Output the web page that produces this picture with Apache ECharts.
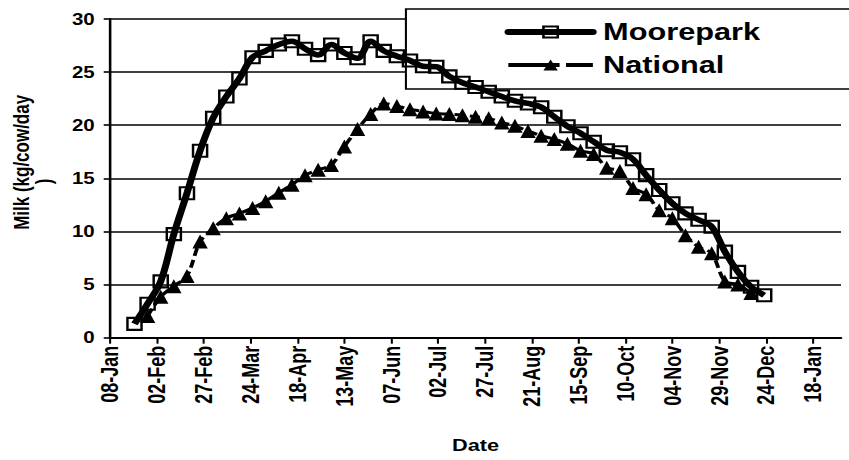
<!DOCTYPE html>
<html>
<head>
<meta charset="utf-8">
<script src="https://cdn.jsdelivr.net/npm/echarts@6/dist/echarts.min.js"></script>
<style>
html,body{margin:0;padding:0;overflow:hidden;background:#fff;width:849px;height:460px}
#wrap{width:849px;height:460px;overflow:hidden;position:relative}
#chart{width:663px;height:460px;transform:scaleX(1.2805);transform-origin:0 0}
</style>
</head>
<body>
<div id="wrap"><div id="chart"></div></div>
<script>
// ---- data ----
const xTickLabels = ['08-Jan','02-Feb','27-Feb','24-Mar','18-Apr','13-May','07-Jun','02-Jul',
  '27-Jul','21-Aug','15-Sep','10-Oct','04-Nov','29-Nov','24-Dec','18-Jan'];
const weekDates = ['21-Jan','28-Jan','04-Feb','11-Feb','18-Feb','25-Feb','04-Mar','11-Mar','18-Mar','25-Mar',
  '01-Apr','08-Apr','15-Apr','22-Apr','29-Apr','06-May','13-May','20-May','27-May','03-Jun',
  '10-Jun','17-Jun','24-Jun','01-Jul','08-Jul','15-Jul','22-Jul','29-Jul','05-Aug','12-Aug',
  '19-Aug','26-Aug','02-Sep','09-Sep','16-Sep','23-Sep','30-Sep','07-Oct','14-Oct','21-Oct',
  '28-Oct','04-Nov','11-Nov','18-Nov','25-Nov','02-Dec','09-Dec','16-Dec','23-Dec'];
const moorepark = [1.3,3.2,5.3,9.75,13.6,17.6,20.7,22.7,24.4,26.4,
  27.0,27.6,27.9,27.2,26.6,27.6,26.8,26.3,27.9,27.0,
  26.5,26.1,25.55,25.5,24.6,24.0,23.6,23.15,22.7,22.3,
  22.05,21.7,20.8,19.9,19.25,18.45,17.65,17.45,16.8,15.3,
  13.9,12.65,11.7,11.1,10.45,8.1,6.2,4.8,4.0];
const nationalDates = weekDates.slice(1, 48);
const national = [2.05,3.85,4.85,5.8,9.05,10.3,11.25,11.7,12.2,
  12.85,13.65,14.4,15.3,15.8,16.25,18.0,19.65,21.05,22.05,
  21.8,21.5,21.3,21.1,21.05,20.95,20.8,20.65,20.25,19.95,
  19.45,19.0,18.7,18.25,17.6,17.3,16.0,15.7,14.1,13.5,
  12.0,11.25,9.65,8.55,7.95,5.3,5.0,4.2];

// ---- helpers ----
const MONTHS = ['Jan','Feb','Mar','Apr','May','Jun','Jul','Aug','Sep','Oct','Nov','Dec'];
function dayOffset(s) {
  const parts = s.split('-');
  const m = MONTHS.indexOf(parts[1]);
  return (Date.UTC(2007, m, +parts[0]) - Date.UTC(2007, 0, 8)) / 86400000;
}
const TICK_STEP = 25;
const tickValues = xTickLabels.map((_, i) => i * TICK_STEP);
const FONT = "'Liberation Sans', Arial, sans-serif";

const mooreData = weekDates.map((d, i) => [dayOffset(d), moorepark[i]]);
const natData = nationalDates.map((d, i) => [dayOffset(d), national[i]]);

const chart = echarts.init(document.getElementById('chart'), null, {renderer: 'svg'});
chart.setOption({
  animation: false,
  backgroundColor: '#fff',
  grid: {left: 81.2, right: 6.2, top: 19, bottom: 122.3, containLabel: false},
  graphic: [{
    type: 'rect', z: 1, zlevel: 0,
    shape: {x: 317, y: 9, width: 420, height: 80},
    style: {fill: '#fff', stroke: '#000', lineWidth: 1.6}
  }],
  legend: {
    orient: 'vertical', left: 394, top: 20, padding: 0, itemGap: 9,
    itemWidth: 66, itemHeight: 14, z: 3,
    textStyle: {fontFamily: FONT, fontWeight: 'bold', fontSize: 24, color: '#000', lineHeight: 24, padding: [0,0,0,3]},
    data: [
      {name: 'Moorepark', lineStyle: {width: 6, color: '#000', type: 'solid', cap: 'round'}},
      {name: 'National', lineStyle: {width: 4, color: '#000', type: [40, 5]}}
    ]
  },
  xAxis: {
    type: 'value', min: 0, max: 390, interval: TICK_STEP,
    name: 'Date', nameLocation: 'middle', nameGap: 99,
    nameTextStyle: {fontFamily: FONT, fontWeight: 'bold', fontSize: 17, color: '#000'},
    axisLine: {show: true, onZero: false, lineStyle: {color: '#000', width: 2}},
    axisTick: {show: true, length: 6, customValues: tickValues, lineStyle: {color: '#000', width: 1.6}},
    axisLabel: {
      customValues: tickValues, rotate: 90, margin: 8, align: 'right', verticalAlign: 'middle',
      fontFamily: FONT, fontWeight: 'bold', fontSize: 18, color: '#000',
      formatter: v => xTickLabels[Math.round(v / TICK_STEP)] || ''
    },
    splitLine: {show: false}
  },
  yAxis: {
    type: 'value', min: 0, max: 30, interval: 5,
    name: '{a|Milk (kg/cow/day}\n{b|)}', nameLocation: 'middle', nameGap: 44,
    nameTextStyle: {
      fontFamily: FONT, fontWeight: 'bold', fontSize: 17, color: '#000', lineHeight: 17,
      rich: {
        a: {fontFamily: FONT, fontWeight: 'bold', fontSize: 17, color: '#000', lineHeight: 17, padding: [0,0,0,32]},
        b: {fontFamily: FONT, fontWeight: 'bold', fontSize: 17, color: '#000', lineHeight: 17, padding: [0,6,0,0]}
      }
    },
    axisLine: {show: true, lineStyle: {color: '#000', width: 2}},
    axisTick: {show: true, length: 5, lineStyle: {color: '#000', width: 1.6}},
    axisLabel: {margin: 12, fontFamily: FONT, fontWeight: 'bold', fontSize: 16, color: '#000'},
    splitLine: {show: true, lineStyle: {color: '#000', width: 1.6}}
  },
  series: [
    {
      name: 'Moorepark', type: 'line', data: mooreData, smooth: 0.35, z: 2,
      symbol: 'rect', symbolSize: [11, 12], showAllSymbol: true,
      lineStyle: {color: '#000', width: 5.5},
      itemStyle: {color: 'rgba(0,0,0,0)', borderColor: '#000', borderWidth: 2}
    },
    {
      name: 'National', type: 'line', data: natData, smooth: 0.3, z: 2,
      symbol: 'triangle', symbolSize: [12, 14], showAllSymbol: true,
      lineStyle: {color: '#000', width: 3, type: [8, 4]},
      itemStyle: {color: '#000'}
    }
  ]
});
</script>
</body>
</html>
